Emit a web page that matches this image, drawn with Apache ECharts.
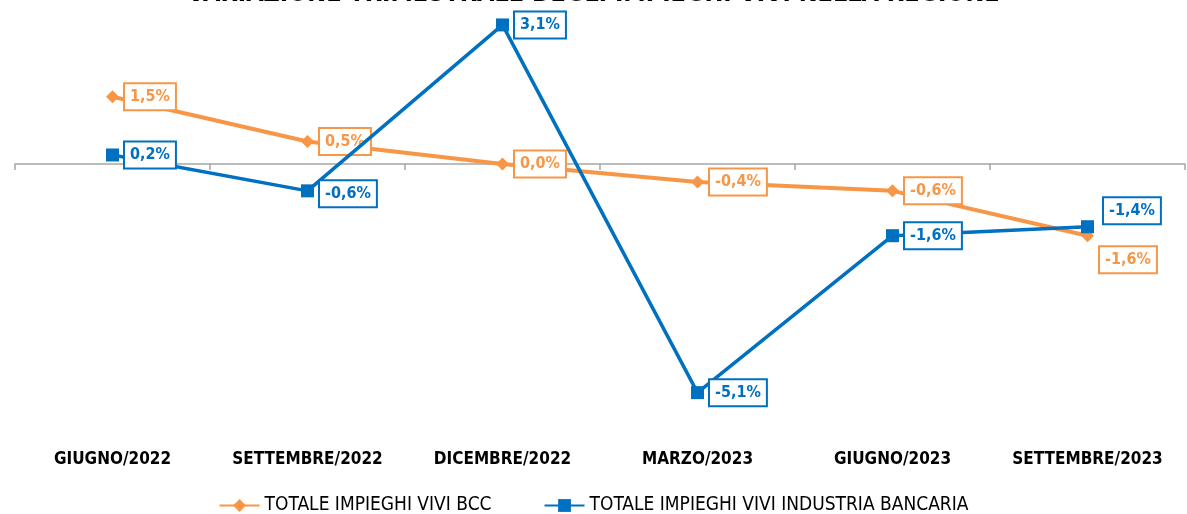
<!DOCTYPE html>
<html>
<head>
<meta charset="utf-8">
<script src="https://cdn.jsdelivr.net/npm/echarts@6/dist/echarts.min.js"></script>
<style>
  html, body { margin: 0; padding: 0; background: #fff; }
  #chart { width: 1187px; height: 514px; }
</style>
</head>
<body>
<div id="chart"></div>
<script>
// dati
const categories = ['GIUGNO/2022', 'SETTEMBRE/2022', 'DICEMBRE/2022', 'MARZO/2023', 'GIUGNO/2023', 'SETTEMBRE/2023'];
const bccValues = [1.5, 0.5, 0.0, -0.4, -0.6, -1.6];
const bancarieValues = [0.2, -0.6, 3.1, -5.1, -1.6, -1.4];
const seriesNames = ['TOTALE IMPIEGHI VIVI BCC', 'TOTALE IMPIEGHI VIVI INDUSTRIA BANCARIA'];

const ORANGE = '#F79646';
const BLUE = '#0070C0';
const FONT = '"DejaVu Sans Condensed", sans-serif';

const fmt = v => v.toFixed(1).replace('.', ',') + '%';

// etichette con bordo
const boxLabel = color => ({
    show: true,
    position: 'right',
    distance: 6,
    formatter: p => fmt(p.value),
    color: color,
    fontFamily: FONT,
    fontWeight: 'bold',
    fontSize: 16,
    lineHeight: 17,
    backgroundColor: '#fff',
    borderColor: color,
    borderWidth: 2,
    padding: [5, 5, 3, 5]
});

// posizioni particolari delle etichette
const bccData = bccValues.map((v, i) => {
    if (i === 5) return { value: v, label: { offset: [0, 24] } };
    return v;
});
const bancarieData = bancarieValues.map((v, i) => {
    if (i === 1) return { value: v, label: { offset: [0, 3] } };
    if (i === 5) return { value: v, label: { offset: [4, -16] } };
    return v;
});

const chart = echarts.init(document.getElementById('chart'));

const option = {
    animation: false,
    title: {
        text: 'VARIAZIONE TRIMESTRALE DEGLI IMPIEGHI VIVI NELLA REGIONE',
        left: 'center',
        top: -23,
        textStyle: { fontFamily: FONT, fontWeight: 'bold', fontSize: 25, color: '#000' }
    },
    legend: {
        top: 491,
        left: 'center',
        itemGap: 52,
        itemWidth: 40,
        itemHeight: 16,
        textStyle: { fontFamily: FONT, fontSize: 19, color: '#000', fontWeight: 'normal' },
        data: seriesNames
    },
    grid: { left: 15, right: 2, top: 7, bottom: 81 },
    xAxis: [
        {
            // linea dello zero
            type: 'category',
            data: categories,
            boundaryGap: true,
            axisLine: { onZero: true, lineStyle: { color: '#A6A6A6', width: 1.5 } },
            axisTick: { show: true, length: 6, inside: false, lineStyle: { color: '#A6A6A6', width: 1.5 } },
            axisLabel: { show: false }
        },
        {
            // etichette in basso
            type: 'category',
            data: categories,
            position: 'bottom',
            boundaryGap: true,
            axisLine: { show: false, onZero: false },
            axisTick: { show: false },
            axisLabel: {
                interval: 0,
                margin: 18,
                color: '#000',
                fontFamily: FONT,
                fontWeight: 'bold',
                fontSize: 17
            }
        }
    ],
    yAxis: {
        type: 'value',
        min: -6,
        max: 3.5,
        show: false,
        splitLine: { show: false }
    },
    series: [
        {
            name: seriesNames[0],
            type: 'line',
            data: bccData,
            xAxisIndex: 0,
            symbol: 'diamond',
            symbolSize: 13,
            itemStyle: { color: ORANGE },
            lineStyle: { color: ORANGE, width: 4 },
            label: boxLabel(ORANGE),
            z: 3
        },
        {
            name: seriesNames[1],
            type: 'line',
            data: bancarieData,
            xAxisIndex: 0,
            symbol: 'rect',
            symbolSize: 13,
            itemStyle: { color: BLUE },
            lineStyle: { color: BLUE, width: 3.5 },
            label: boxLabel(BLUE),
            z: 4
        }
    ]
};

chart.setOption(option);
</script>
</body>
</html>
